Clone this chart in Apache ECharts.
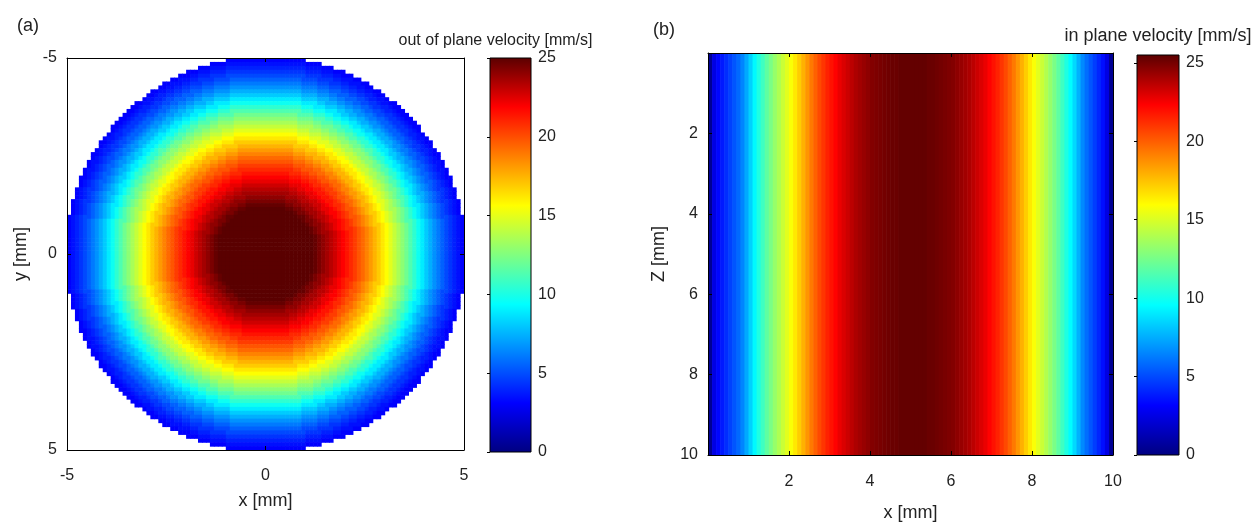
<!DOCTYPE html>
<html>
<head>
<meta charset="utf-8">
<script src="https://cdn.jsdelivr.net/npm/echarts@6/dist/echarts.min.js"></script>
<style>
  html, body { margin: 0; background: #fff; }
  #main { width: 1259px; height: 523px; }
</style>
</head>
<body>
<div id="main"></div>
<script>
// (a) out of plane velocity vs radius, r = 0, 0.1, ... 5.0 mm
var profileA = [
  27.6, 27.6, 27.5, 27.4, 27.3, 27.1, 26.9, 26.7, 26.4, 26.1,
  25.8, 25.5, 25.1, 24.8, 24.4, 24.0, 23.6, 23.2, 22.8, 22.3,
  21.9, 21.4, 20.9, 20.4, 19.8, 19.3, 18.7, 18.1, 17.5, 16.9,
  16.2, 15.6, 14.9, 14.2, 13.5, 12.8, 12.1, 11.3, 10.5, 9.7,
  8.9, 8.1, 7.4, 6.7, 6.1, 5.5, 4.9, 4.4, 3.9, 3.5,
  3.1
];
// (b) in plane velocity per column, x = 0.05 ... 9.95 mm
var profileB = [
  0.5, 2.5, 3.3, 3.8, 4.3, 4.8, 5.3, 5.8, 6.5, 7.4,
  8.4, 9.4, 10.3, 11.1, 11.9, 12.6, 13.3, 13.9, 14.6, 15.2,
  15.8, 16.5, 17.2, 17.9, 18.6, 19.3, 19.9, 20.5, 21.0, 21.5,
  21.9, 22.3, 22.7, 23.0, 23.3, 23.6, 23.9, 24.1, 24.3, 24.5,
  24.7, 24.8, 24.9, 25.0, 25.1, 25.2, 25.2, 25.3, 25.3, 25.3,
  25.3, 25.3, 25.3, 25.3, 25.2, 25.2, 25.1, 25.0, 24.9, 24.8,
  24.7, 24.5, 24.3, 24.1, 23.9, 23.6, 23.3, 23.0, 22.7, 22.3,
  21.9, 21.5, 21.0, 20.5, 19.9, 19.3, 18.6, 17.9, 17.2, 16.5,
  15.8, 15.2, 14.6, 14.0, 13.3, 12.6, 11.9, 11.1, 10.3, 9.5,
  8.6, 7.6, 6.6, 5.9, 5.3, 4.7, 4.1, 3.5, 2.5, 0.5
];
var cellSize = 0.1;
var colorbarMaxA = 25;
var colorbarMaxB = 25.5;
var jet = ['#000080', '#0000ff', '#0080ff', '#00ffff', '#80ff80', '#ffff00', '#ff8000', '#ff0000', '#5a0000'];

// grid cells of the pipe cross-section, value looked up from the radial profile
var cellsA = [];
for (var i = 0; i < 100; i++) {
  for (var j = 0; j < 100; j++) {
    var x = +(-4.95 + i * cellSize).toFixed(2);
    var y = +(-4.95 + j * cellSize).toFixed(2);
    var k = Math.round(Math.sqrt(x * x + y * y) / cellSize);
    if (k < profileA.length) cellsA.push([x, y, profileA[k]]);
  }
}
var columnsB = profileB.map(function (v, i) {
  return [+(0.05 + i * cellSize).toFixed(2), v];
});

var font = 'Liberation Sans, Arial, sans-serif';
var txt = { color: '#222', fontFamily: font, fontSize: 16 };

function cellItem(params, api) {
  var p = api.coord([api.value(0) - cellSize / 2, api.value(1) - cellSize / 2]);
  var s = api.size([cellSize, cellSize]);
  return { type: 'rect', shape: { x: p[0], y: p[1], width: s[0] + 0.6, height: s[1] + 0.6 },
    style: { fill: api.visual('color') } };
}
function columnItem(params, api) {
  var p = api.coord([api.value(0) - cellSize / 2, 0]);
  var s = api.size([cellSize, 10]);
  return { type: 'rect', shape: { x: p[0], y: p[1], width: s[0] + 0.6, height: s[1] },
    style: { fill: api.visual('color') } };
}
function colorbarItem(max) {
  return function (params, api) {
    var p0 = api.coord([0, 0]);
    var p1 = api.coord([1, max]);
    var stops = jet.map(function (c, n) { return { offset: n / (jet.length - 1), color: c }; });
    return { type: 'rect', shape: { x: p0[0], y: p1[1], width: p1[0] - p0[0], height: p0[1] - p1[1] },
      style: { fill: new echarts.graphic.LinearGradient(0, 1, 0, 0, stops), stroke: '#000', lineWidth: 1 } };
  };
}

function frameAxis(extra) {
  var base = {
    type: 'value', z: 10,
    axisLine: { show: true, onZero: false, lineStyle: { color: '#000', width: 1 } },
    axisTick: { show: true, inside: true, length: 4, lineStyle: { color: '#000' } },
    axisLabel: { show: false },
    splitLine: { show: false }
  };
  return Object.assign(base, extra);
}
function hideZero(v) { return v === 0 ? '' : v; }

var chart = echarts.init(document.getElementById('main'));
chart.setOption({
  animation: false,
  backgroundColor: '#fff',
  title: [
    { text: '(a)', left: 12, top: 12, textStyle: { color: '#222', fontFamily: font, fontSize: 18, fontWeight: 'normal' } },
    { text: '(b)', left: 648, top: 16, textStyle: { color: '#222', fontFamily: font, fontSize: 18, fontWeight: 'normal' } }
  ],
  grid: [
    { left: 67, top: 58, width: 397, height: 392, outerBoundsMode: 'none' },
    { left: 708, top: 53, width: 405, height: 402, outerBoundsMode: 'none' },
    { left: 490, top: 58, width: 41, height: 394, outerBoundsMode: 'none' },
    { left: 1137, top: 55, width: 42, height: 400, outerBoundsMode: 'none' }
  ],
  xAxis: [
    frameAxis({ gridIndex: 0, position: 'bottom', min: -5, max: 5, interval: 5,
      axisLabel: Object.assign({ show: true, margin: 18 }, txt),
      name: 'x [mm]', nameLocation: 'middle', nameGap: 42, nameTextStyle: Object.assign({}, txt, { fontSize: 18 }) }),
    frameAxis({ gridIndex: 0, position: 'top', min: -5, max: 5, interval: 5 }),
    frameAxis({ gridIndex: 1, position: 'bottom', min: 0, max: 10, interval: 2,
      axisLabel: Object.assign({ show: true, margin: 19, formatter: hideZero }, txt),
      name: 'x [mm]', nameLocation: 'middle', nameGap: 49, nameTextStyle: Object.assign({}, txt, { fontSize: 18 }) }),
    frameAxis({ gridIndex: 1, position: 'top', min: 0, max: 10, interval: 2 }),
    { type: 'value', gridIndex: 2, position: 'top', min: 0, max: 1, show: true,
      axisLine: { show: false }, axisTick: { show: false }, axisLabel: { show: false }, splitLine: { show: false },
      name: 'out of plane velocity [mm/s]', nameLocation: 'middle', nameGap: 9,
      nameTextStyle: { color: '#222', fontFamily: font, fontSize: 16, padding: [0, 30, 0, 0] } },
    { type: 'value', gridIndex: 3, position: 'top', min: 0, max: 1, show: true,
      axisLine: { show: false }, axisTick: { show: false }, axisLabel: { show: false }, splitLine: { show: false },
      name: 'in plane velocity [mm/s]', nameLocation: 'middle', nameGap: 10,
      nameTextStyle: { color: '#222', fontFamily: font, fontSize: 18 } }
  ],
  yAxis: [
    frameAxis({ gridIndex: 0, position: 'left', inverse: true, min: -5, max: 5, interval: 5,
      axisLabel: Object.assign({ show: true, margin: 10 }, txt),
      name: 'y [mm]', nameLocation: 'middle', nameGap: 37, nameTextStyle: Object.assign({}, txt, { fontSize: 18 }) }),
    frameAxis({ gridIndex: 0, position: 'right', inverse: true, min: -5, max: 5, interval: 5 }),
    frameAxis({ gridIndex: 1, position: 'left', inverse: true, min: 0, max: 10, interval: 2,
      axisLabel: Object.assign({ show: true, margin: 10, formatter: hideZero }, txt),
      name: 'Z [mm]', nameLocation: 'middle', nameGap: 40, nameTextStyle: Object.assign({}, txt, { fontSize: 18 }) }),
    frameAxis({ gridIndex: 1, position: 'right', inverse: true, min: 0, max: 10, interval: 2 }),
    { type: 'value', gridIndex: 2, position: 'right', min: 0, max: colorbarMaxA, interval: 5, z: 10,
      axisLine: { show: false }, splitLine: { show: false },
      axisTick: { show: true, inside: true, length: 3, lineStyle: { color: '#000' } },
      axisLabel: Object.assign({ margin: 7 }, txt) },
    { type: 'value', gridIndex: 3, position: 'right', min: 0, max: colorbarMaxB, interval: 5, z: 10,
      axisLine: { show: false }, splitLine: { show: false },
      axisTick: { show: true, inside: true, length: 3, lineStyle: { color: '#000' } },
      axisLabel: Object.assign({ margin: 7, showMaxLabel: false,
        formatter: function (v) { return v % 5 === 0 ? v : ''; } }, txt) }
  ],
  visualMap: [
    { type: 'continuous', show: false, min: 0, max: colorbarMaxA, dimension: 2, seriesIndex: 0, inRange: { color: jet } },
    { type: 'continuous', show: false, min: 0, max: colorbarMaxB, dimension: 1, seriesIndex: 1, inRange: { color: jet } }
  ],
  series: [
    { type: 'custom', xAxisIndex: 0, yAxisIndex: 0, data: cellsA, renderItem: cellItem,
      clip: true, progressive: 0, silent: true },
    { type: 'custom', xAxisIndex: 2, yAxisIndex: 2, data: columnsB, renderItem: columnItem,
      clip: true, progressive: 0, silent: true },
    { type: 'custom', xAxisIndex: 4, yAxisIndex: 4, data: [[0]], renderItem: colorbarItem(colorbarMaxA), silent: true },
    { type: 'custom', xAxisIndex: 5, yAxisIndex: 5, data: [[0]], renderItem: colorbarItem(colorbarMaxB), silent: true }
  ]
});
</script>
</body>
</html>
